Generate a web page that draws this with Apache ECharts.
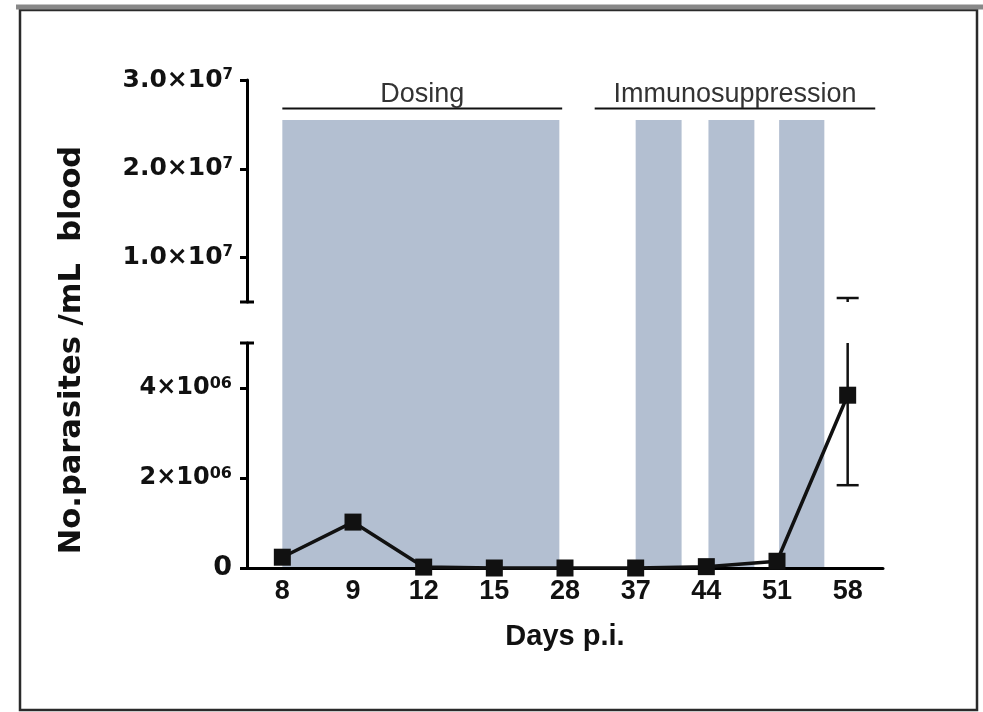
<!DOCTYPE html>
<html><head><meta charset="utf-8">
<script src="https://cdn.jsdelivr.net/npm/echarts@6/dist/echarts.min.js"></script>
<style>html,body{margin:0;padding:0;background:#fff}#c{width:983px;height:712px}</style>
</head><body><div id="c"></div>
<script>
// ---- data ----
const days = ['8', '9', '12', '15', '28', '37', '44', '51', '58'];
const parasites = [240000, 1020000, 20000, 0, 0, 0, 30000, 150000, 3840000];
const errLow  = [null, null, null, null, null, null, null, null, 1840000];
const errHigh = [null, null, null, null, null, null, null, null, 5450000];
const breakValue = 5000000;          // axis break between lower and upper segments
const upperMax = 30000000;
const upperTicks = [10000000, 20000000, 30000000];
const upperTickLabels = ['1.0×10^7', '2.0×10^7', '3.0×10^7'];
const lowerTicks = [0, 2000000, 4000000];
const lowerTickLabels = ['0', '2×10^06', '4×10^06'];
// shaded periods, in category-index units (0 = day 8 ... 8 = day 58)
const shadedPeriods = [[0, 3.92], [5.0, 5.65], [6.03, 6.68], [7.03, 7.67]];
const phaseNames = ['Dosing', 'Immunosuppression'];
const phaseSpans = [[0, 3.96], [4.42, 8.39]];

// ---- helpers ----
function fmt(ticks, labels) {
  return function (v) {
    const i = ticks.findIndex(t => Math.abs(t - v) < 1);
    if (i < 0) return '';
    const parts = labels[i].split('^');
    return parts.length > 1 ? '{b|' + parts[0] + '}{s|' + parts[1] + '}' : '{z|' + parts[0] + '}';
  };
}
const G = { left: 247, width: 636 };
const upperGrid = { left: G.left, width: G.width, top: 80, height: 222 };
const lowerGrid = { left: G.left, width: G.width, top: 343, height: 225 };
const fullGrid  = { left: G.left, width: G.width, top: 80, height: 488 };
const SHADE_TOP = 0.918, PHASE_LINE = 0.9416;

const axisLineStyle = { color: '#000', width: 3 };
function capSeries(gi) {
  return {
    type: 'custom', xAxisIndex: gi, yAxisIndex: gi, silent: true, z: 12,
    data: [[0, breakValue]],
    renderItem(params, api) {
      const y = api.coord([0, api.value(1)])[1];
      const x = params.coordSys.x;
      return { type: 'line', shape: { x1: x - 7, y1: y, x2: x + 7, y2: y },
        style: { stroke: '#000', lineWidth: 3 } };
    }
  };
}

const chart = echarts.init(document.getElementById('c'), null, { renderer: 'canvas' });
chart.setOption({
  backgroundColor: '#fff',
  animation: false,
  grid: [upperGrid, lowerGrid, fullGrid],
  xAxis: [
    { gridIndex: 0, type: 'category', data: days, show: false },
    { gridIndex: 1, type: 'category', data: days, z: 10,
      axisLine: { lineStyle: axisLineStyle },
      axisTick: { alignWithLabel: true, length: 12, lineStyle: { color: '#000', width: 3 } },
      axisLabel: { color: '#111', fontFamily: 'Liberation Sans', fontWeight: 'bold', fontSize: 27, margin: 10 },
      name: 'Days p.i.', nameLocation: 'middle', nameGap: 54,
      nameTextStyle: { color: '#111', fontFamily: 'Liberation Sans', fontWeight: 'bold', fontSize: 29 }
    },
    { gridIndex: 2, type: 'value', min: -0.5, max: 8.5, show: false }
  ],
  yAxis: [
    { gridIndex: 0, type: 'value', min: breakValue, max: upperMax, z: 10,
      splitLine: { show: false },
      axisLine: { show: true, lineStyle: axisLineStyle },
      axisTick: { show: true, length: 7, lineStyle: { color: '#000', width: 3 }, customValues: upperTicks },
      axisLabel: { customValues: upperTicks, formatter: fmt(upperTicks, upperTickLabels), margin: 14,
        rich: {
          b: { fontFamily: 'DejaVu Sans', fontWeight: 'bold', fontSize: 25, color: '#111' },
          s: { fontFamily: 'DejaVu Sans', fontWeight: 'bold', fontSize: 15, color: '#111', verticalAlign: 'top' }
        } }
    },
    { gridIndex: 1, type: 'value', min: 0, max: breakValue, z: 10,
      splitLine: { show: false },
      axisLine: { show: true, lineStyle: axisLineStyle },
      axisTick: { show: true, length: 7, lineStyle: { color: '#000', width: 3 }, customValues: lowerTicks },
      axisLabel: { customValues: lowerTicks, formatter: fmt(lowerTicks, lowerTickLabels), margin: 15,
        rich: {
          b: { fontFamily: 'DejaVu Sans', fontWeight: 'bold', fontSize: 24, color: '#111' },
          z: { fontFamily: 'DejaVu Sans', fontWeight: 'bold', fontSize: 27, color: '#111' },
          s: { fontFamily: 'DejaVu Sans', fontWeight: 'bold', fontSize: 16, color: '#111', verticalAlign: 'top' }
        } }
    },
    { gridIndex: 2, type: 'value', min: 0, max: 1, show: false }
  ],
  series: [
    { // shaded treatment periods
      type: 'custom', xAxisIndex: 2, yAxisIndex: 2, silent: true, z: 1,
      data: shadedPeriods.map(p => [p[0], p[1]]),
      renderItem(params, api) {
        const x0 = api.coord([api.value(0), 0])[0];
        const x1 = api.coord([api.value(1), 0])[0];
        const yb = api.coord([0, 0])[1];
        const yt = api.coord([0, SHADE_TOP])[1];
        return { type: 'rect', shape: { x: x0, y: yt, width: x1 - x0, height: yb - yt },
          style: { fill: '#b3bfd1' } };
      }
    },
    { // phase annotation lines + names
      type: 'custom', xAxisIndex: 2, yAxisIndex: 2, silent: true, z: 3,
      data: phaseSpans.map((s, i) => [s[0], s[1], i]),
      renderItem(params, api) {
        const x0 = api.coord([api.value(0), 0])[0];
        const x1 = api.coord([api.value(1), 0])[0];
        const y = api.coord([0, PHASE_LINE])[1];
        return { type: 'group', children: [
          { type: 'line', shape: { x1: x0, y1: y, x2: x1, y2: y }, style: { stroke: '#111', lineWidth: 2 } },
          { type: 'text', x: (x0 + x1) / 2, y: y, style: { text: phaseNames[api.value(2)],
            fontFamily: 'Liberation Sans', fontSize: 27, fill: '#333', align: 'center', verticalAlign: 'bottom' } }
        ] };
      }
    },
    capSeries(0), capSeries(1),
    { // error bar, lower segment
      type: 'custom', xAxisIndex: 1, yAxisIndex: 1, silent: true, z: 19, clip: false,
      data: days.map((d, i) => [i, parasites[i], errLow[i], errHigh[i]]).filter(r => r[2] != null),
      renderItem(params, api) {
        const i = api.value(0);
        const x = api.coord([i, api.value(1)])[0];
        const yLo = api.coord([i, api.value(2)])[1];
        const yHi = api.coord([i, Math.min(api.value(3), breakValue)])[1];
        const ch = [
          { type: 'line', shape: { x1: x, y1: yLo, x2: x, y2: yHi }, style: { stroke: '#111', lineWidth: 2.5 } },
          { type: 'line', shape: { x1: x - 11, y1: yLo, x2: x + 11, y2: yLo }, style: { stroke: '#111', lineWidth: 2.5 } }
        ];
        return { type: 'group', children: ch };
      }
    },
    { // error bar, upper segment
      type: 'custom', xAxisIndex: 0, yAxisIndex: 0, silent: true, z: 19, clip: false,
      data: days.map((d, i) => [i, errHigh[i]]).filter(r => r[1] != null && r[1] > breakValue),
      renderItem(params, api) {
        const i = api.value(0);
        const x = api.coord([i, api.value(1)])[0];
        const yHi = api.coord([i, api.value(1)])[1];
        const yB = api.coord([i, breakValue])[1];
        return { type: 'group', children: [
          { type: 'line', shape: { x1: x, y1: yB, x2: x, y2: yHi }, style: { stroke: '#111', lineWidth: 2.5 } },
          { type: 'line', shape: { x1: x - 11, y1: yHi, x2: x + 11, y2: yHi }, style: { stroke: '#111', lineWidth: 2.5 } }
        ] };
      }
    },
    { // mean parasitaemia
      type: 'line', xAxisIndex: 1, yAxisIndex: 1, z: 20, clip: false,
      data: parasites, symbol: 'rect', symbolSize: 17,
      lineStyle: { color: '#111', width: 3.5 },
      itemStyle: { color: '#111' }
    }
  ],
  graphic: [
    { type: 'rect', shape: { x: 20, y: 10, width: 957, height: 700 },
      style: { fill: 'none', stroke: '#2a2a2a', lineWidth: 2.5 }, silent: true },
    { type: 'line', shape: { x1: 16, y1: 7, x2: 983, y2: 7 },
      style: { stroke: '#888', lineWidth: 5 }, silent: true },
    { type: 'text', x: 72, y: 350, rotation: Math.PI / 2, silent: true,
      style: { text: 'No.parasites /mL  blood', fontFamily: 'DejaVu Sans', fontWeight: 'bold', fontSize: 30.5,
        fill: '#111', align: 'center', verticalAlign: 'middle' } }
  ]
});
</script></body></html>
